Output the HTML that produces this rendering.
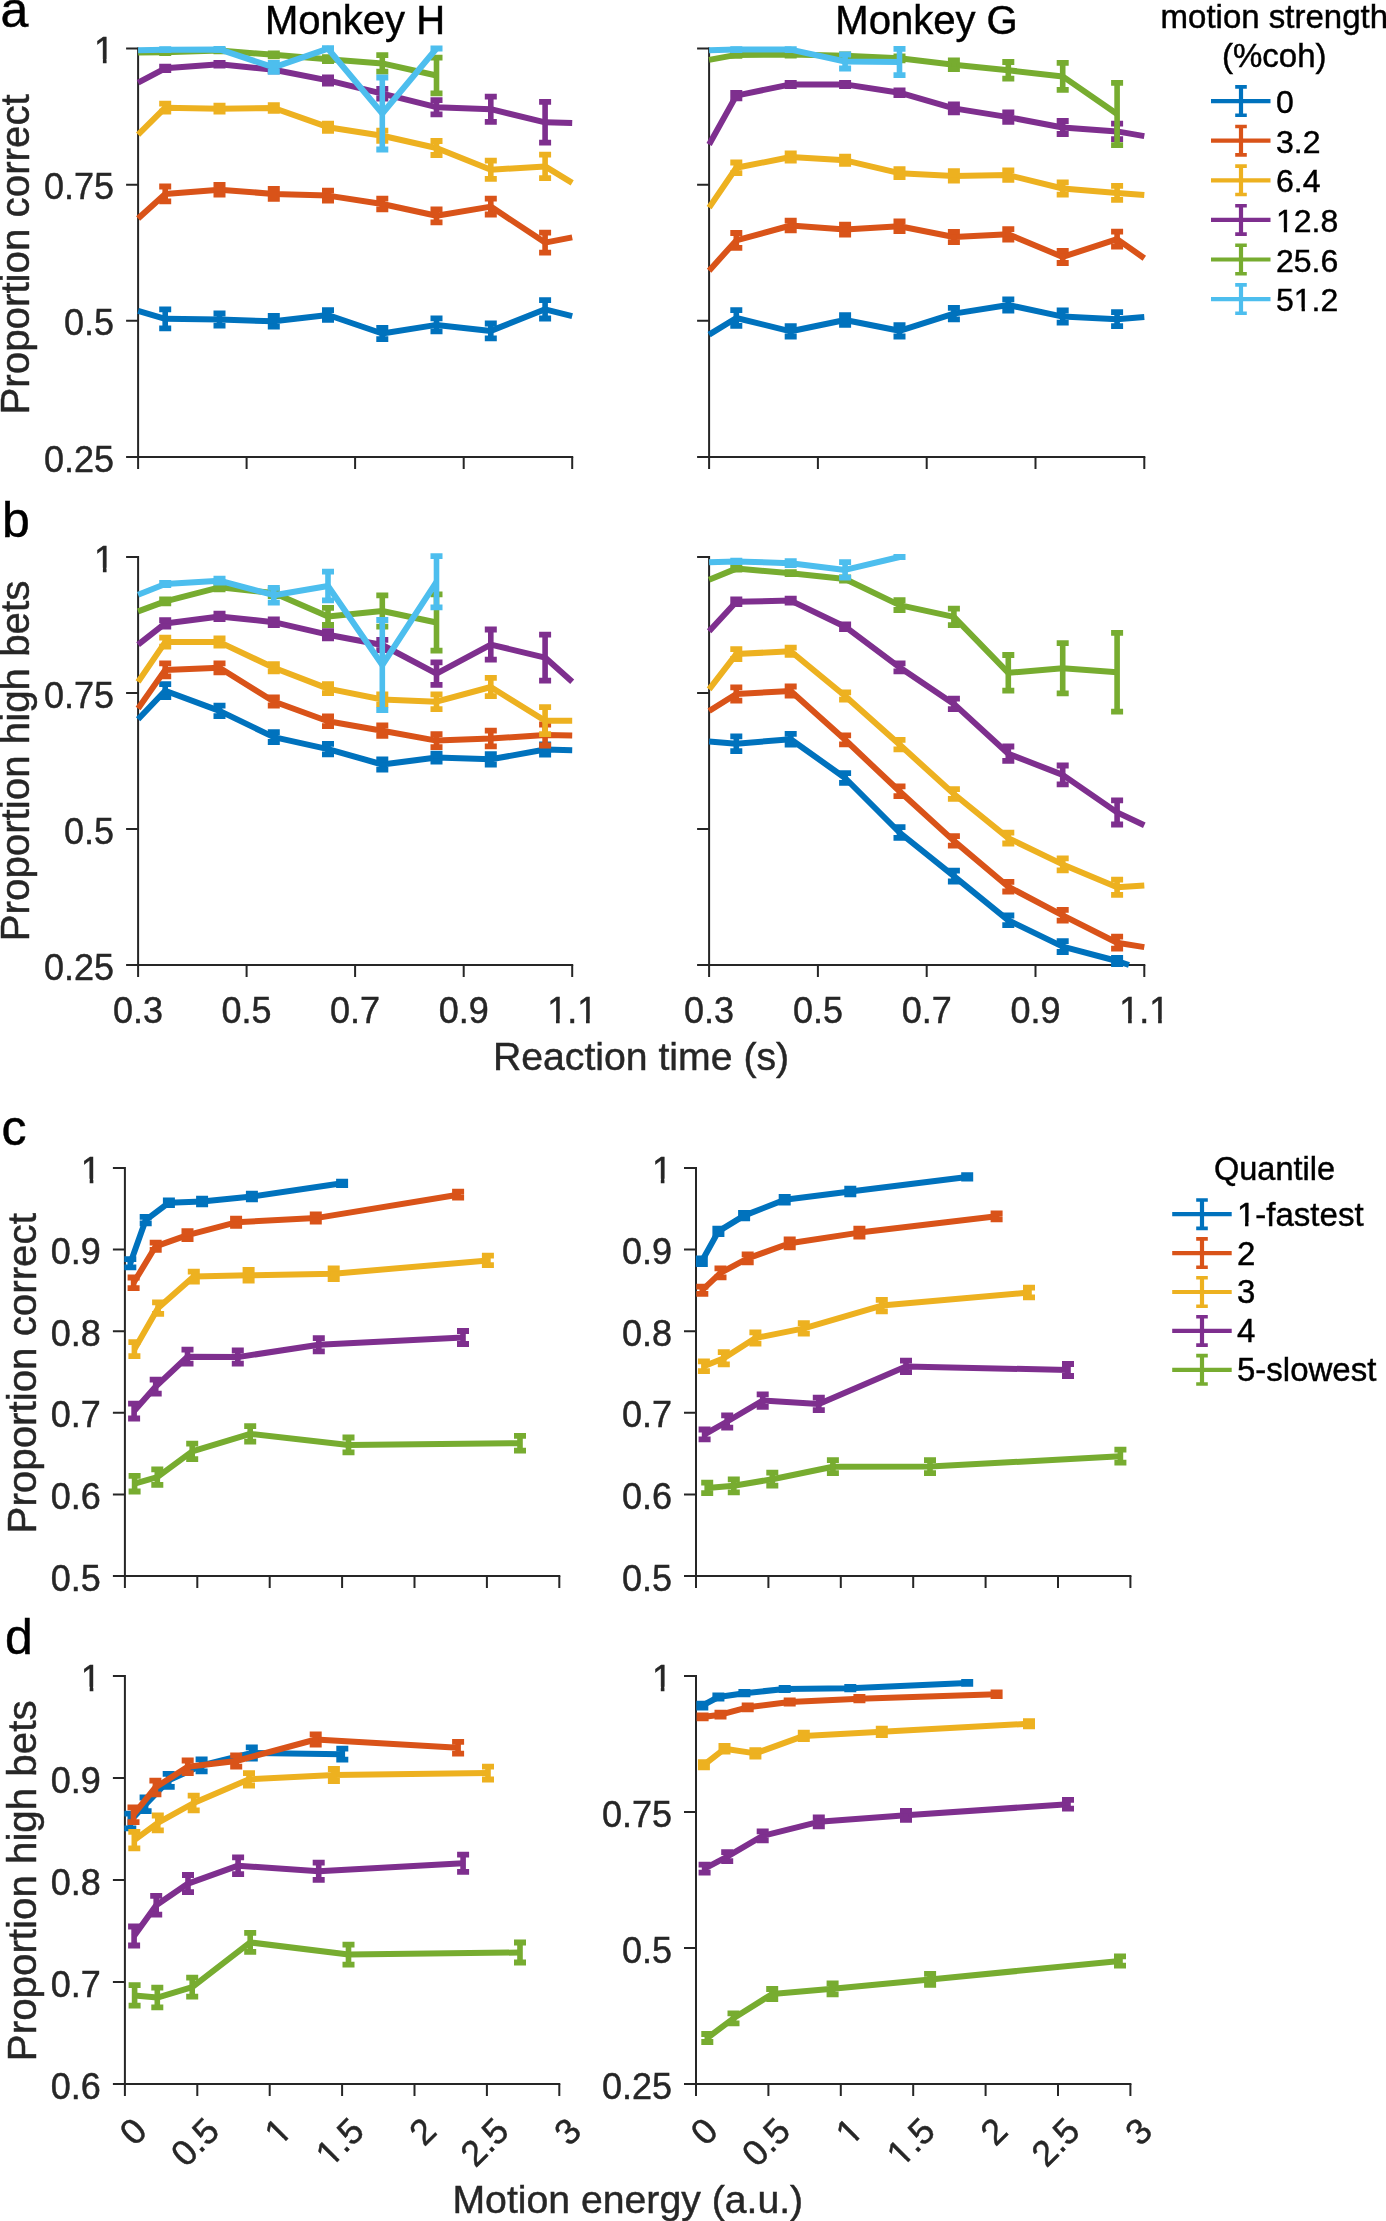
<!DOCTYPE html><html><head><meta charset="utf-8"><title>figure</title><style>html,body{margin:0;padding:0;background:#fff;}svg{display:block;will-change:transform;}</style></head><body><svg width="1386" height="2221" viewBox="0 0 1386 2221">
<style>text{font-family:"Liberation Sans",sans-serif;stroke-width:0.45px;paint-order:stroke}.tk{font-size:36px;fill:#262626;stroke:#262626}.lab{font-size:40.3px;fill:#262626;stroke:#262626}.ttl{font-size:40px;fill:#000;stroke:#000}.xlab{font-size:39.2px;fill:#262626;stroke:#262626}.pl{font-size:50px;fill:#000;stroke:#000}.lg{font-size:32px;fill:#000;stroke:#000}.lgt{font-size:33px;fill:#000;stroke:#000}.lgq{font-size:32.5px;fill:#000;stroke:#000}.lg2{font-size:33px;fill:#000;stroke:#000}</style>
<rect width="1386" height="2221" fill="#fff"/>
<text x="0.5" y="26.6" class="pl">a</text>
<text x="2" y="536.5" class="pl">b</text>
<text x="1.5" y="1144.5" class="pl">c</text>
<text x="5" y="1653.5" class="pl">d</text>
<text x="355" y="34.2" text-anchor="middle" class="ttl">Monkey H</text>
<text x="926.5" y="34.2" text-anchor="middle" class="ttl">Monkey G</text>
<g stroke="#262626" stroke-width="2" fill="none">
<path d="M138.1,47.5V457H573.2"/>
<path d="M126.1,48.5H138.1M126.1,184.7H138.1M126.1,320.8H138.1M126.1,457H138.1M138.1,457V469M246.6,457V469M355.1,457V469M463.7,457V469M572.2,457V469"/>
</g>
<g stroke="#262626" stroke-width="2" fill="none">
<path d="M709.1,47.5V457H1145.3"/>
<path d="M697.1,48.5H709.1M697.1,184.7H709.1M697.1,320.8H709.1M697.1,457H709.1M709.1,457V469M817.9,457V469M926.7,457V469M1035.5,457V469M1144.3,457V469"/>
</g>
<g stroke="#262626" stroke-width="2" fill="none">
<path d="M138.1,556V965H573.2"/>
<path d="M126.1,557H138.1M126.1,693H138.1M126.1,829H138.1M126.1,965H138.1M138.1,965V977M246.6,965V977M355.1,965V977M463.7,965V977M572.2,965V977"/>
</g>
<g stroke="#262626" stroke-width="2" fill="none">
<path d="M709.1,556V965H1145.3"/>
<path d="M697.1,557H709.1M697.1,693H709.1M697.1,829H709.1M697.1,965H709.1M709.1,965V977M817.9,965V977M926.7,965V977M1035.5,965V977M1144.3,965V977"/>
</g>
<g stroke="#262626" stroke-width="2" fill="none">
<path d="M124.9,1167V1576H560.3"/>
<path d="M112.9,1168H124.9M112.9,1249.6H124.9M112.9,1331.2H124.9M112.9,1412.8H124.9M112.9,1494.4H124.9M112.9,1576H124.9M124.9,1576V1588M197.3,1576V1588M269.7,1576V1588M342.1,1576V1588M414.5,1576V1588M486.9,1576V1588M559.3,1576V1588"/>
</g>
<g stroke="#262626" stroke-width="2" fill="none">
<path d="M696,1167V1576H1131.4"/>
<path d="M684,1168H696M684,1249.6H696M684,1331.2H696M684,1412.8H696M684,1494.4H696M684,1576H696M696,1576V1588M768.4,1576V1588M840.8,1576V1588M913.2,1576V1588M985.6,1576V1588M1058,1576V1588M1130.4,1576V1588"/>
</g>
<g stroke="#262626" stroke-width="2" fill="none">
<path d="M124.9,1675V2084H560.3"/>
<path d="M112.9,1676H124.9M112.9,1778H124.9M112.9,1880H124.9M112.9,1982H124.9M112.9,2084H124.9M124.9,2084V2096M197.3,2084V2096M269.7,2084V2096M342.1,2084V2096M414.5,2084V2096M486.9,2084V2096M559.3,2084V2096"/>
</g>
<g stroke="#262626" stroke-width="2" fill="none">
<path d="M696,1675V2084H1131.4"/>
<path d="M684,1676H696M684,1812H696M684,1948H696M684,2084H696M696,2084V2096M768.4,2084V2096M840.8,2084V2096M913.2,2084V2096M985.6,2084V2096M1058,2084V2096M1130.4,2084V2096"/>
</g>
<text x="114.1" y="63" text-anchor="end" class="tk">1</text>
<g fill="#fff"><rect x="95.42" y="59.21" width="7.47" height="5.49"/><rect x="106.55" y="59.21" width="7.19" height="5.49"/></g>
<text x="114.1" y="199.2" text-anchor="end" class="tk">0.75</text>
<text x="114.1" y="335.3" text-anchor="end" class="tk">0.5</text>
<text x="114.1" y="471.5" text-anchor="end" class="tk">0.25</text>
<text x="114.1" y="571.5" text-anchor="end" class="tk">1</text>
<g fill="#fff"><rect x="95.42" y="567.71" width="7.47" height="5.49"/><rect x="106.55" y="567.71" width="7.19" height="5.49"/></g>
<text x="114.1" y="707.5" text-anchor="end" class="tk">0.75</text>
<text x="114.1" y="843.5" text-anchor="end" class="tk">0.5</text>
<text x="114.1" y="979.5" text-anchor="end" class="tk">0.25</text>
<text x="100.9" y="1182.5" text-anchor="end" class="tk">1</text>
<g fill="#fff"><rect x="82.22" y="1178.71" width="7.47" height="5.49"/><rect x="93.35" y="1178.71" width="7.19" height="5.49"/></g>
<text x="100.9" y="1264.1" text-anchor="end" class="tk">0.9</text>
<text x="100.9" y="1345.7" text-anchor="end" class="tk">0.8</text>
<text x="100.9" y="1427.3" text-anchor="end" class="tk">0.7</text>
<text x="100.9" y="1508.9" text-anchor="end" class="tk">0.6</text>
<text x="100.9" y="1590.5" text-anchor="end" class="tk">0.5</text>
<text x="672" y="1182.5" text-anchor="end" class="tk">1</text>
<g fill="#fff"><rect x="653.32" y="1178.71" width="7.47" height="5.49"/><rect x="664.45" y="1178.71" width="7.19" height="5.49"/></g>
<text x="672" y="1264.1" text-anchor="end" class="tk">0.9</text>
<text x="672" y="1345.7" text-anchor="end" class="tk">0.8</text>
<text x="672" y="1427.3" text-anchor="end" class="tk">0.7</text>
<text x="672" y="1508.9" text-anchor="end" class="tk">0.6</text>
<text x="672" y="1590.5" text-anchor="end" class="tk">0.5</text>
<text x="100.9" y="1690.5" text-anchor="end" class="tk">1</text>
<g fill="#fff"><rect x="82.22" y="1686.71" width="7.47" height="5.49"/><rect x="93.35" y="1686.71" width="7.19" height="5.49"/></g>
<text x="100.9" y="1792.5" text-anchor="end" class="tk">0.9</text>
<text x="100.9" y="1894.5" text-anchor="end" class="tk">0.8</text>
<text x="100.9" y="1996.5" text-anchor="end" class="tk">0.7</text>
<text x="100.9" y="2098.5" text-anchor="end" class="tk">0.6</text>
<text x="672" y="1690.5" text-anchor="end" class="tk">1</text>
<g fill="#fff"><rect x="653.32" y="1686.71" width="7.47" height="5.49"/><rect x="664.45" y="1686.71" width="7.19" height="5.49"/></g>
<text x="672" y="1826.5" text-anchor="end" class="tk">0.75</text>
<text x="672" y="1962.5" text-anchor="end" class="tk">0.5</text>
<text x="672" y="2098.5" text-anchor="end" class="tk">0.25</text>
<text x="138.1" y="1023" text-anchor="middle" class="tk">0.3</text>
<text x="246.6" y="1023" text-anchor="middle" class="tk">0.5</text>
<text x="355.1" y="1023" text-anchor="middle" class="tk">0.7</text>
<text x="463.7" y="1023" text-anchor="middle" class="tk">0.9</text>
<text x="572.2" y="1023" text-anchor="middle" class="tk">1.1</text>
<g fill="#fff"><rect x="548.52" y="1019.21" width="7.47" height="5.49"/><rect x="559.65" y="1019.21" width="7.19" height="5.49"/><rect x="578.54" y="1019.21" width="7.47" height="5.49"/><rect x="589.68" y="1019.21" width="7.19" height="5.49"/></g>
<text x="709.1" y="1023" text-anchor="middle" class="tk">0.3</text>
<text x="817.9" y="1023" text-anchor="middle" class="tk">0.5</text>
<text x="926.7" y="1023" text-anchor="middle" class="tk">0.7</text>
<text x="1035.5" y="1023" text-anchor="middle" class="tk">0.9</text>
<text x="1144.3" y="1023" text-anchor="middle" class="tk">1.1</text>
<g fill="#fff"><rect x="1120.62" y="1019.21" width="7.47" height="5.49"/><rect x="1131.75" y="1019.21" width="7.19" height="5.49"/><rect x="1150.64" y="1019.21" width="7.47" height="5.49"/><rect x="1161.78" y="1019.21" width="7.19" height="5.49"/></g>
<text transform="translate(148.9,2133) rotate(-45)" text-anchor="end" class="tk">0</text>
<text transform="translate(221.3,2133) rotate(-45)" text-anchor="end" class="tk">0.5</text>
<text transform="translate(293.7,2133) rotate(-45)" text-anchor="end" class="tk">1</text>
<g fill="#fff" transform="translate(293.7,2133) rotate(-45)"><rect x="-18.68" y="-3.79" width="7.47" height="5.49"/><rect x="-7.55" y="-3.79" width="7.19" height="5.49"/></g>
<text transform="translate(366.1,2133) rotate(-45)" text-anchor="end" class="tk">1.5</text>
<g fill="#fff" transform="translate(366.1,2133) rotate(-45)"><rect x="-48.70" y="-3.79" width="7.47" height="5.49"/><rect x="-37.57" y="-3.79" width="7.19" height="5.49"/></g>
<text transform="translate(438.5,2133) rotate(-45)" text-anchor="end" class="tk">2</text>
<text transform="translate(510.9,2133) rotate(-45)" text-anchor="end" class="tk">2.5</text>
<text transform="translate(583.3,2133) rotate(-45)" text-anchor="end" class="tk">3</text>
<text transform="translate(720,2133) rotate(-45)" text-anchor="end" class="tk">0</text>
<text transform="translate(792.4,2133) rotate(-45)" text-anchor="end" class="tk">0.5</text>
<text transform="translate(864.8,2133) rotate(-45)" text-anchor="end" class="tk">1</text>
<g fill="#fff" transform="translate(864.8,2133) rotate(-45)"><rect x="-18.68" y="-3.79" width="7.47" height="5.49"/><rect x="-7.55" y="-3.79" width="7.19" height="5.49"/></g>
<text transform="translate(937.2,2133) rotate(-45)" text-anchor="end" class="tk">1.5</text>
<g fill="#fff" transform="translate(937.2,2133) rotate(-45)"><rect x="-48.70" y="-3.79" width="7.47" height="5.49"/><rect x="-37.57" y="-3.79" width="7.19" height="5.49"/></g>
<text transform="translate(1009.6,2133) rotate(-45)" text-anchor="end" class="tk">2</text>
<text transform="translate(1082,2133) rotate(-45)" text-anchor="end" class="tk">2.5</text>
<text transform="translate(1154.4,2133) rotate(-45)" text-anchor="end" class="tk">3</text>
<text transform="translate(29.1,254.4) rotate(-90)" text-anchor="middle" class="lab">Proportion correct</text>
<text transform="translate(29,761) rotate(-90)" text-anchor="middle" class="lab">Proportion high bets</text>
<text transform="translate(36,1373.3) rotate(-90)" text-anchor="middle" class="lab">Proportion correct</text>
<text transform="translate(36,1880.8) rotate(-90)" text-anchor="middle" class="lab">Proportion high bets</text>
<text x="641" y="1069.6" text-anchor="middle" class="xlab">Reaction time (s)</text>
<text x="627.8" y="2212.6" text-anchor="middle" class="xlab">Motion energy (a.u.)</text>
<g stroke="#0072BD" fill="none"><path d="M138.1,310.8 L165.2,318.8 L219.5,319.6 L273.8,321.3 L328,315 L382.3,333.5 L436.5,324.9 L490.8,330.9 L545.1,309.3 L572.2,316.2" stroke-width="6" stroke-linejoin="round"/><path d="M165.2,309.3V328.3M219.5,313.5V325.7M273.8,316V326.6M328,310.1V319.9M382.3,327.8V339.2M436.5,318.4V331.4M490.8,323.5V338.3M545.1,300.1V318.5" stroke-width="5.6"/><path d="M159.2,309.3H171.2M159.2,328.3H171.2M213.5,313.5H225.5M213.5,325.7H225.5M267.8,316H279.8M267.8,326.6H279.8M322,310.1H334M322,319.9H334M376.3,327.8H388.3M376.3,339.2H388.3M430.5,318.4H442.5M430.5,331.4H442.5M484.8,323.5H496.8M484.8,338.3H496.8M539.1,300.1H551.1M539.1,318.5H551.1" stroke-width="5.8"/></g>
<g stroke="#D95319" fill="none"><path d="M138.1,218.4 L165.2,193.9 L219.5,189.7 L273.8,193.9 L328,195.6 L382.3,204 L436.5,215.8 L490.8,206.6 L545.1,242.6 L572.2,237.4" stroke-width="6" stroke-linejoin="round"/><path d="M165.2,186.5V201.3M219.5,184.8V194.6M273.8,189V198.8M328,190.7V200.5M382.3,198.7V209.3M436.5,209.3V222.3M490.8,198.7V214.5M545.1,232.6V252.6" stroke-width="5.6"/><path d="M159.2,186.5H171.2M159.2,201.3H171.2M213.5,184.8H225.5M213.5,194.6H225.5M267.8,189H279.8M267.8,198.8H279.8M322,190.7H334M322,200.5H334M376.3,198.7H388.3M376.3,209.3H388.3M430.5,209.3H442.5M430.5,222.3H442.5M484.8,198.7H496.8M484.8,214.5H496.8M539.1,232.6H551.1M539.1,252.6H551.1" stroke-width="5.8"/></g>
<g stroke="#EDB120" fill="none"><path d="M138.1,134.6 L165.2,107.7 L219.5,108.7 L273.8,108 L328,127.2 L382.3,135.8 L436.5,148 L490.8,169.8 L545.1,166.4 L572.2,182.9" stroke-width="6" stroke-linejoin="round"/><path d="M165.2,103.7V111.7M219.5,105.7V111.7M273.8,105.2V110.8M328,123.6V130.8M382.3,130.7V140.9M436.5,141V155M490.8,160.7V178.9M545.1,154.7V178.1" stroke-width="5.6"/><path d="M159.2,103.7H171.2M159.2,111.7H171.2M213.5,105.7H225.5M213.5,111.7H225.5M267.8,105.2H279.8M267.8,110.8H279.8M322,123.6H334M322,130.8H334M376.3,130.7H388.3M376.3,140.9H388.3M430.5,141H442.5M430.5,155H442.5M484.8,160.7H496.8M484.8,178.9H496.8M539.1,154.7H551.1M539.1,178.1H551.1" stroke-width="5.8"/></g>
<g stroke="#7E2F8E" fill="none"><path d="M138.1,82.7 L165.2,68.3 L219.5,64.3 L273.8,69.8 L328,80.4 L382.3,93.7 L436.5,107.2 L490.8,109.2 L545.1,122.3 L572.2,123.1" stroke-width="6" stroke-linejoin="round"/><path d="M165.2,66.6V70M219.5,63V65.6M273.8,68.3V71.3M328,77.3V83.5M382.3,88.9V98.5M436.5,100.1V114.3M490.8,96.6V121.8M545.1,101.9V142.7" stroke-width="5.6"/><path d="M159.2,66.6H171.2M159.2,70H171.2M213.5,63H225.5M213.5,65.6H225.5M267.8,68.3H279.8M267.8,71.3H279.8M322,77.3H334M322,83.5H334M376.3,88.9H388.3M376.3,98.5H388.3M430.5,100.1H442.5M430.5,114.3H442.5M484.8,96.6H496.8M484.8,121.8H496.8M539.1,101.9H551.1M539.1,142.7H551.1" stroke-width="5.8"/></g>
<g stroke="#77AC30" fill="none"><path d="M138.1,52.5 L165.2,52.3 L219.5,50.6 L273.8,54.8 L328,59.2 L382.3,63.4 L436.5,75.5" stroke-width="6" stroke-linejoin="round"/><path d="M165.2,51.5V53.1M219.5,49.8V51.4M273.8,53.3V56.3M328,57.2V61.2M382.3,55.2V71.6M436.5,57.7V93.3" stroke-width="5.6"/><path d="M159.2,51.5H171.2M159.2,53.1H171.2M213.5,49.8H225.5M213.5,51.4H225.5M267.8,53.3H279.8M267.8,56.3H279.8M322,57.2H334M322,61.2H334M376.3,55.2H388.3M376.3,71.6H388.3M430.5,57.7H442.5M430.5,93.3H442.5" stroke-width="5.8"/></g>
<g stroke="#4DBEEE" fill="none"><path d="M138.1,50.3 L165.2,49.7 L219.5,49.4 L273.8,67.4 L328,48.7 L382.3,113.5 L436.5,48.5" stroke-width="6" stroke-linejoin="round"/><path d="M165.2,49.2V50.2M219.5,48.9V49.9M273.8,62.9V71.9M328,48.2V49.2M382.3,77.5V149.5" stroke-width="5.6"/><path d="M159.2,49.2H171.2M159.2,50.2H171.2M213.5,48.9H225.5M213.5,49.9H225.5M267.8,62.9H279.8M267.8,71.9H279.8M322,48.2H334M322,49.2H334M376.3,77.5H388.3M376.3,149.5H388.3M430.5,48.5H442.5M430.5,48.5H442.5" stroke-width="5.8"/></g>
<g stroke="#0072BD" fill="none"><path d="M709.1,334.6 L736.3,318 L790.7,331.3 L845.1,320 L899.5,330.8 L953.9,313.6 L1008.3,305 L1062.7,316.6 L1117.1,319.2 L1144.3,317.1" stroke-width="6" stroke-linejoin="round"/><path d="M736.3,310.2V325.8M790.7,326.1V336.5M845.1,315.1V324.9M899.5,325.1V336.5M953.9,307.9V319.3M1008.3,299.3V310.7M1062.7,310.5V322.7M1117.1,312.2V326.2" stroke-width="5.6"/><path d="M730.3,310.2H742.3M730.3,325.8H742.3M784.7,326.1H796.7M784.7,336.5H796.7M839.1,315.1H851.1M839.1,324.9H851.1M893.5,325.1H905.5M893.5,336.5H905.5M947.9,307.9H959.9M947.9,319.3H959.9M1002.3,299.3H1014.3M1002.3,310.7H1014.3M1056.7,310.5H1068.7M1056.7,322.7H1068.7M1111.1,312.2H1123.1M1111.1,326.2H1123.1" stroke-width="5.8"/></g>
<g stroke="#D95319" fill="none"><path d="M709.1,270.7 L736.3,240.4 L790.7,225.5 L845.1,229.6 L899.5,226.3 L953.9,237 L1008.3,234.3 L1062.7,256.9 L1117.1,239.1 L1144.3,258.2" stroke-width="6" stroke-linejoin="round"/><path d="M736.3,233V247.8M790.7,220.6V230.4M845.1,224.7V234.5M899.5,221.4V231.2M953.9,231.8V242.2M1008.3,229.1V239.5M1062.7,250.8V263M1117.1,231.7V246.5" stroke-width="5.6"/><path d="M730.3,233H742.3M730.3,247.8H742.3M784.7,220.6H796.7M784.7,230.4H796.7M839.1,224.7H851.1M839.1,234.5H851.1M893.5,221.4H905.5M893.5,231.2H905.5M947.9,231.8H959.9M947.9,242.2H959.9M1002.3,229.1H1014.3M1002.3,239.5H1014.3M1056.7,250.8H1068.7M1056.7,263H1068.7M1111.1,231.7H1123.1M1111.1,246.5H1123.1" stroke-width="5.8"/></g>
<g stroke="#EDB120" fill="none"><path d="M709.1,207.6 L736.3,167.8 L790.7,157 L845.1,160.3 L899.5,173.2 L953.9,175.9 L1008.3,175.1 L1062.7,188.5 L1117.1,192.9 L1144.3,195" stroke-width="6" stroke-linejoin="round"/><path d="M736.3,162.5V173.1M790.7,153.4V160.6M845.1,156.7V163.9M899.5,169.2V177.2M953.9,171.1V180.7M1008.3,170.3V179.9M1062.7,182.4V194.6M1117.1,185.9V199.9" stroke-width="5.6"/><path d="M730.3,162.5H742.3M730.3,173.1H742.3M784.7,153.4H796.7M784.7,160.6H796.7M839.1,156.7H851.1M839.1,163.9H851.1M893.5,169.2H905.5M893.5,177.2H905.5M947.9,171.1H959.9M947.9,180.7H959.9M1002.3,170.3H1014.3M1002.3,179.9H1014.3M1056.7,182.4H1068.7M1056.7,194.6H1068.7M1111.1,185.9H1123.1M1111.1,199.9H1123.1" stroke-width="5.8"/></g>
<g stroke="#7E2F8E" fill="none"><path d="M709.1,144.5 L736.3,95.6 L790.7,84.4 L845.1,84.4 L899.5,92.7 L953.9,108.4 L1008.3,117.1 L1062.7,127.5 L1117.1,131.4 L1144.3,136.1" stroke-width="6" stroke-linejoin="round"/><path d="M736.3,92.8V98.4M790.7,82.8V86M845.1,82.8V86M899.5,90.3V95.1M953.9,104.5V112.3M1008.3,112.3V121.9M1062.7,121V134M1117.1,123.6V139.2" stroke-width="5.6"/><path d="M730.3,92.8H742.3M730.3,98.4H742.3M784.7,82.8H796.7M784.7,86H796.7M839.1,82.8H851.1M839.1,86H851.1M893.5,90.3H905.5M893.5,95.1H905.5M947.9,104.5H959.9M947.9,112.3H959.9M1002.3,112.3H1014.3M1002.3,121.9H1014.3M1056.7,121H1068.7M1056.7,134H1068.7M1111.1,123.6H1123.1M1111.1,139.2H1123.1" stroke-width="5.8"/></g>
<g stroke="#77AC30" fill="none"><path d="M709.1,59.9 L736.3,54.9 L790.7,54.6 L845.1,55.8 L899.5,58.3 L953.9,64.7 L1008.3,70.3 L1062.7,76.4 L1117.1,114" stroke-width="6" stroke-linejoin="round"/><path d="M736.3,53.9V55.9M790.7,53.6V55.6M845.1,54.3V57.3M899.5,56.3V60.3M953.9,60.3V69.1M1008.3,62V78.6M1062.7,62.9V89.9M1117.1,82.8V145.2" stroke-width="5.6"/><path d="M730.3,53.9H742.3M730.3,55.9H742.3M784.7,53.6H796.7M784.7,55.6H796.7M839.1,54.3H851.1M839.1,57.3H851.1M893.5,56.3H905.5M893.5,60.3H905.5M947.9,60.3H959.9M947.9,69.1H959.9M1002.3,62H1014.3M1002.3,78.6H1014.3M1056.7,62.9H1068.7M1056.7,89.9H1068.7M1111.1,82.8H1123.1M1111.1,145.2H1123.1" stroke-width="5.8"/></g>
<g stroke="#4DBEEE" fill="none"><path d="M709.1,50.2 L736.3,49.6 L790.7,49.6 L845.1,61.5 L899.5,62" stroke-width="6" stroke-linejoin="round"/><path d="M736.3,49.1V50.1M790.7,49.1V50.1M845.1,54.5V68.5M899.5,48.8V75.2" stroke-width="5.6"/><path d="M730.3,49.1H742.3M730.3,50.1H742.3M784.7,49.1H796.7M784.7,50.1H796.7M839.1,54.5H851.1M839.1,68.5H851.1M893.5,48.8H905.5M893.5,75.2H905.5" stroke-width="5.8"/></g>
<g stroke="#0072BD" fill="none"><path d="M138.1,719.2 L165.2,690.7 L219.5,710.9 L273.8,737.1 L328,749.1 L382.3,764.5 L436.5,757.6 L490.8,759.3 L545.1,749.5 L572.2,750.2" stroke-width="6" stroke-linejoin="round"/><path d="M165.2,684.2V697.2M219.5,705.6V716.2M273.8,732.2V742M328,743.8V754.4M382.3,759.3V769.7M436.5,753.6V761.6M490.8,754.1V764.5M545.1,744.5V754.5" stroke-width="5.6"/><path d="M159.2,684.2H171.2M159.2,697.2H171.2M213.5,705.6H225.5M213.5,716.2H225.5M267.8,732.2H279.8M267.8,742H279.8M322,743.8H334M322,754.4H334M376.3,759.3H388.3M376.3,769.7H388.3M430.5,753.6H442.5M430.5,761.6H442.5M484.8,754.1H496.8M484.8,764.5H496.8M539.1,744.5H551.1M539.1,754.5H551.1" stroke-width="5.8"/></g>
<g stroke="#D95319" fill="none"><path d="M138.1,708.5 L165.2,669.9 L219.5,667.8 L273.8,701.5 L328,721.3 L382.3,730.7 L436.5,740.6 L490.8,738.5 L545.1,735 L572.2,735.5" stroke-width="6" stroke-linejoin="round"/><path d="M165.2,663.4V676.4M219.5,663.3V672.3M273.8,697.5V705.5M328,716.4V726.2M382.3,725.5V735.9M436.5,734.1V747.1M490.8,730.7V746.3M545.1,724.5V745.5" stroke-width="5.6"/><path d="M159.2,663.4H171.2M159.2,676.4H171.2M213.5,663.3H225.5M213.5,672.3H225.5M267.8,697.5H279.8M267.8,705.5H279.8M322,716.4H334M322,726.2H334M376.3,725.5H388.3M376.3,735.9H388.3M430.5,734.1H442.5M430.5,747.1H442.5M484.8,730.7H496.8M484.8,746.3H496.8M539.1,724.5H551.1M539.1,745.5H551.1" stroke-width="5.8"/></g>
<g stroke="#EDB120" fill="none"><path d="M138.1,681.9 L165.2,642.1 L219.5,642.1 L273.8,667.8 L328,688.6 L382.3,699.5 L436.5,701.7 L490.8,687 L545.1,720.7 L572.2,720.8" stroke-width="6" stroke-linejoin="round"/><path d="M165.2,637.6V646.6M219.5,638.5V645.7M273.8,664.2V671.4M328,684.1V693.1M382.3,694.3V704.7M436.5,694.3V709.1M490.8,677.9V696.1M545.1,707.2V734.2" stroke-width="5.6"/><path d="M159.2,637.6H171.2M159.2,646.6H171.2M213.5,638.5H225.5M213.5,645.7H225.5M267.8,664.2H279.8M267.8,671.4H279.8M322,684.1H334M322,693.1H334M376.3,694.3H388.3M376.3,704.7H388.3M430.5,694.3H442.5M430.5,709.1H442.5M484.8,677.9H496.8M484.8,696.1H496.8M539.1,707.2H551.1M539.1,734.2H551.1" stroke-width="5.8"/></g>
<g stroke="#7E2F8E" fill="none"><path d="M138.1,644.6 L165.2,623.4 L219.5,616.4 L273.8,622.2 L328,634.7 L382.3,645 L436.5,673.6 L490.8,644.6 L545.1,657.6 L572.2,681.8" stroke-width="6" stroke-linejoin="round"/><path d="M165.2,620.2V626.6M219.5,613.6V619.2M273.8,619.4V625M328,631.1V638.3M382.3,639.8V650.2M436.5,662.3V684.9M490.8,629.5V659.7M545.1,634.6V680.6" stroke-width="5.6"/><path d="M159.2,620.2H171.2M159.2,626.6H171.2M213.5,613.6H225.5M213.5,619.2H225.5M267.8,619.4H279.8M267.8,625H279.8M322,631.1H334M322,638.3H334M376.3,639.8H388.3M376.3,650.2H388.3M430.5,662.3H442.5M430.5,684.9H442.5M484.8,629.5H496.8M484.8,659.7H496.8M539.1,634.6H551.1M539.1,680.6H551.1" stroke-width="5.8"/></g>
<g stroke="#77AC30" fill="none"><path d="M138.1,611.4 L165.2,601.4 L219.5,587.3 L273.8,593.1 L328,616.4 L382.3,611 L436.5,622.5" stroke-width="6" stroke-linejoin="round"/><path d="M165.2,599.4V603.4M219.5,585.3V589.3M273.8,590.1V596.1M328,607.8V625M382.3,595.4V626.6M436.5,594.3V650.7" stroke-width="5.6"/><path d="M159.2,599.4H171.2M159.2,603.4H171.2M213.5,585.3H225.5M213.5,589.3H225.5M267.8,590.1H279.8M267.8,596.1H279.8M322,607.8H334M322,625H334M376.3,595.4H388.3M376.3,626.6H388.3M430.5,594.3H442.5M430.5,650.7H442.5" stroke-width="5.8"/></g>
<g stroke="#4DBEEE" fill="none"><path d="M138.1,594.8 L165.2,584 L219.5,580.7 L273.8,595.2 L328,586 L382.3,665 L436.5,581.8" stroke-width="6" stroke-linejoin="round"/><path d="M165.2,583V585M219.5,578.7V582.7M273.8,587.8V602.6M328,571.6V600.4M382.3,620V710M436.5,556.2V607.4" stroke-width="5.6"/><path d="M159.2,583H171.2M159.2,585H171.2M213.5,578.7H225.5M213.5,582.7H225.5M267.8,587.8H279.8M267.8,602.6H279.8M322,571.6H334M322,600.4H334M376.3,620H388.3M376.3,710H388.3M430.5,556.2H442.5M430.5,607.4H442.5" stroke-width="5.8"/></g>
<g stroke="#0072BD" fill="none"><path d="M709.1,741.6 L736.3,743.7 L790.7,739.2 L845.1,778 L899.5,832.5 L953.9,876.1 L1008.3,920.3 L1062.7,946.6 L1117.1,961 L1129,965" stroke-width="6" stroke-linejoin="round"/><path d="M736.3,736.3V751.1M790.7,733.9V744.5M845.1,773.1V782.9M899.5,827.1V837.9M953.9,870.7V881.5M1008.3,915.5V925.1M1062.7,941.2V952M1117.1,958V964" stroke-width="5.6"/><path d="M730.3,736.3H742.3M730.3,751.1H742.3M784.7,733.9H796.7M784.7,744.5H796.7M839.1,773.1H851.1M839.1,782.9H851.1M893.5,827.1H905.5M893.5,837.9H905.5M947.9,870.7H959.9M947.9,881.5H959.9M1002.3,915.5H1014.3M1002.3,925.1H1014.3M1056.7,941.2H1068.7M1056.7,952H1068.7M1111.1,958H1123.1M1111.1,964H1123.1" stroke-width="5.8"/></g>
<g stroke="#D95319" fill="none"><path d="M709.1,711 L736.3,694 L790.7,691 L845.1,739.8 L899.5,791.3 L953.9,840.9 L1008.3,886.7 L1062.7,915.3 L1117.1,942.7 L1144.3,947.1" stroke-width="6" stroke-linejoin="round"/><path d="M736.3,687.4V700.6M790.7,686.5V695.5M845.1,735.3V744.3M899.5,786.4V796.2M953.9,836.1V845.7M1008.3,881.9V891.5M1062.7,909.9V920.7M1117.1,936.7V948.7" stroke-width="5.6"/><path d="M730.3,687.4H742.3M730.3,700.6H742.3M784.7,686.5H796.7M784.7,695.5H796.7M839.1,735.3H851.1M839.1,744.3H851.1M893.5,786.4H905.5M893.5,796.2H905.5M947.9,836.1H959.9M947.9,845.7H959.9M1002.3,881.9H1014.3M1002.3,891.5H1014.3M1056.7,909.9H1068.7M1056.7,920.7H1068.7M1111.1,936.7H1123.1M1111.1,948.7H1123.1" stroke-width="5.8"/></g>
<g stroke="#EDB120" fill="none"><path d="M709.1,689.4 L736.3,654.1 L790.7,651.2 L845.1,696 L899.5,744.6 L953.9,794 L1008.3,838.1 L1062.7,864.4 L1117.1,887.3 L1144.3,885.6" stroke-width="6" stroke-linejoin="round"/><path d="M736.3,649.2V659M790.7,647.6V654.8M845.1,692.4V699.6M899.5,739.8V749.4M953.9,789.2V798.8M1008.3,832.7V843.5M1062.7,858.4V870.4M1117.1,879.7V894.9" stroke-width="5.6"/><path d="M730.3,649.2H742.3M730.3,659H742.3M784.7,647.6H796.7M784.7,654.8H796.7M839.1,692.4H851.1M839.1,699.6H851.1M893.5,739.8H905.5M893.5,749.4H905.5M947.9,789.2H959.9M947.9,798.8H959.9M1002.3,832.7H1014.3M1002.3,843.5H1014.3M1056.7,858.4H1068.7M1056.7,870.4H1068.7M1111.1,879.7H1123.1M1111.1,894.9H1123.1" stroke-width="5.8"/></g>
<g stroke="#7E2F8E" fill="none"><path d="M709.1,631.3 L736.3,601.8 L790.7,600.6 L845.1,626.7 L899.5,667.3 L953.9,703.9 L1008.3,753.7 L1062.7,774.9 L1117.1,812.4 L1144.3,825.3" stroke-width="6" stroke-linejoin="round"/><path d="M736.3,599.4V604.2M790.7,598.6V602.6M845.1,624.3V629.1M899.5,663.3V671.3M953.9,698.7V709.1M1008.3,746.5V760.9M1062.7,765.5V784.3M1117.1,800.3V824.5" stroke-width="5.6"/><path d="M730.3,599.4H742.3M730.3,604.2H742.3M784.7,598.6H796.7M784.7,602.6H796.7M839.1,624.3H851.1M839.1,629.1H851.1M893.5,663.3H905.5M893.5,671.3H905.5M947.9,698.7H959.9M947.9,709.1H959.9M1002.3,746.5H1014.3M1002.3,760.9H1014.3M1056.7,765.5H1068.7M1056.7,784.3H1068.7M1111.1,800.3H1123.1M1111.1,824.5H1123.1" stroke-width="5.8"/></g>
<g stroke="#77AC30" fill="none"><path d="M709.1,579.7 L736.3,568.6 L790.7,573.2 L845.1,579 L899.5,605.1 L953.9,616.9 L1008.3,672.8 L1062.7,668.2 L1117.1,672.3" stroke-width="6" stroke-linejoin="round"/><path d="M736.3,567.6V569.6M790.7,572.2V574.2M845.1,577.5V580.5M899.5,600.2V610M953.9,608.6V625.2M1008.3,655V690.6M1062.7,643.1V693.3M1117.1,632.9V711.7" stroke-width="5.6"/><path d="M730.3,567.6H742.3M730.3,569.6H742.3M784.7,572.2H796.7M784.7,574.2H796.7M839.1,577.5H851.1M839.1,580.5H851.1M893.5,600.2H905.5M893.5,610H905.5M947.9,608.6H959.9M947.9,625.2H959.9M1002.3,655H1014.3M1002.3,690.6H1014.3M1056.7,643.1H1068.7M1056.7,693.3H1068.7M1111.1,632.9H1123.1M1111.1,711.7H1123.1" stroke-width="5.8"/></g>
<g stroke="#4DBEEE" fill="none"><path d="M709.1,562.3 L736.3,561.4 L790.7,563.2 L845.1,569.9 L899.5,557" stroke-width="6" stroke-linejoin="round"/><path d="M736.3,560.6V562.2M790.7,561.2V565.2M845.1,562.1V577.7" stroke-width="5.6"/><path d="M730.3,560.6H742.3M730.3,562.2H742.3M784.7,561.2H796.7M784.7,565.2H796.7M839.1,562.1H851.1M839.1,577.7H851.1M893.5,557H905.5M893.5,557H905.5" stroke-width="5.8"/></g>
<g stroke="#0072BD" fill="none"><path d="M130.3,1263.3 L145.7,1220.1 L168.9,1202.7 L202.1,1201.5 L251.9,1196.5 L342.1,1183.3" stroke-width="6" stroke-linejoin="round"/><path d="M130.3,1259.2V1267.4M145.7,1216.9V1223.3M168.9,1200.3V1205.1M202.1,1198.7V1204.3M251.9,1193.7V1199.3M342.1,1181.6V1185" stroke-width="5.6"/><path d="M124.3,1259.2H136.3M124.3,1267.4H136.3M139.7,1216.9H151.7M139.7,1223.3H151.7M162.9,1200.3H174.9M162.9,1205.1H174.9M196.1,1198.7H208.1M196.1,1204.3H208.1M245.9,1193.7H257.9M245.9,1199.3H257.9M336.1,1181.6H348.1M336.1,1185H348.1" stroke-width="5.8"/></g>
<g stroke="#D95319" fill="none"><path d="M133.6,1282.8 L155.7,1246.3 L187.5,1235.1 L236.1,1222.3 L315.8,1218.1 L458.1,1194.7" stroke-width="6" stroke-linejoin="round"/><path d="M133.6,1277.5V1288.1M155.7,1242.7V1249.9M187.5,1231.1V1239.1M236.1,1218.7V1225.9M315.8,1214.5V1221.7M458.1,1191.7V1197.7" stroke-width="5.6"/><path d="M127.6,1277.5H139.6M127.6,1288.1H139.6M149.7,1242.7H161.7M149.7,1249.9H161.7M181.5,1231.1H193.5M181.5,1239.1H193.5M230.1,1218.7H242.1M230.1,1225.9H242.1M309.8,1214.5H321.8M309.8,1221.7H321.8M452.1,1191.7H464.1M452.1,1197.7H464.1" stroke-width="5.8"/></g>
<g stroke="#EDB120" fill="none"><path d="M134.4,1349.2 L158.1,1308.1 L193.8,1276.6 L248.6,1275.3 L333.7,1273.7 L487.9,1260.4" stroke-width="6" stroke-linejoin="round"/><path d="M134.4,1342.2V1356.2M158.1,1302.4V1313.8M193.8,1271.7V1281.5M248.6,1270V1280.6M333.7,1268.4V1279M487.9,1255.6V1265.2" stroke-width="5.6"/><path d="M128.4,1342.2H140.4M128.4,1356.2H140.4M152.1,1302.4H164.1M152.1,1313.8H164.1M187.8,1271.7H199.8M187.8,1281.5H199.8M242.6,1270H254.6M242.6,1280.6H254.6M327.7,1268.4H339.7M327.7,1279H339.7M481.9,1255.6H493.9M481.9,1265.2H493.9" stroke-width="5.8"/></g>
<g stroke="#7E2F8E" fill="none"><path d="M134.1,1411.1 L155.7,1386.6 L187.5,1356.7 L237.8,1357.1 L318.8,1344.7 L463,1337.5" stroke-width="6" stroke-linejoin="round"/><path d="M134.1,1403.7V1418.5M155.7,1379.6V1393.6M187.5,1349.7V1363.7M237.8,1350.5V1363.7M318.8,1338.1V1351.3M463,1331V1344" stroke-width="5.6"/><path d="M128.1,1403.7H140.1M128.1,1418.5H140.1M149.7,1379.6H161.7M149.7,1393.6H161.7M181.5,1349.7H193.5M181.5,1363.7H193.5M231.8,1350.5H243.8M231.8,1363.7H243.8M312.8,1338.1H324.8M312.8,1351.3H324.8M457,1331H469M457,1344H469" stroke-width="5.8"/></g>
<g stroke="#77AC30" fill="none"><path d="M134.6,1483.7 L157.3,1477.1 L192.2,1451.4 L250.2,1433.9 L348.5,1444.9 L520,1443.2" stroke-width="6" stroke-linejoin="round"/><path d="M134.6,1475.9V1491.5M157.3,1469.3V1484.9M192.2,1443.6V1459.2M250.2,1426.1V1441.7M348.5,1437.5V1452.3M520,1435.8V1450.6" stroke-width="5.6"/><path d="M128.6,1475.9H140.6M128.6,1491.5H140.6M151.3,1469.3H163.3M151.3,1484.9H163.3M186.2,1443.6H198.2M186.2,1459.2H198.2M244.2,1426.1H256.2M244.2,1441.7H256.2M342.5,1437.5H354.5M342.5,1452.3H354.5M514,1435.8H526M514,1450.6H526" stroke-width="5.8"/></g>
<g stroke="#0072BD" fill="none"><path d="M701.8,1261.2 L718.4,1231.4 L744.1,1215.6 L784.7,1199.8 L850.3,1191.5 L967.2,1176.9" stroke-width="6" stroke-linejoin="round"/><path d="M701.8,1258.4V1264M718.4,1228.6V1234.2M744.1,1212.8V1218.4M784.7,1197V1202.6M850.3,1188.7V1194.3M967.2,1175.1V1178.7" stroke-width="5.6"/><path d="M695.8,1258.4H707.8M695.8,1264H707.8M712.4,1228.6H724.4M712.4,1234.2H724.4M738.1,1212.8H750.1M738.1,1218.4H750.1M778.7,1197H790.7M778.7,1202.6H790.7M844.3,1188.7H856.3M844.3,1194.3H856.3M961.2,1175.1H973.2M961.2,1178.7H973.2" stroke-width="5.8"/></g>
<g stroke="#D95319" fill="none"><path d="M702.3,1290.2 L720.5,1272.9 L747.7,1258.4 L789.7,1243.3 L859.4,1232.6 L996.6,1216.3" stroke-width="6" stroke-linejoin="round"/><path d="M702.3,1286.6V1293.8M720.5,1268.4V1277.4M747.7,1254.4V1262.4M789.7,1239.3V1247.3M859.4,1228.6V1236.6M996.6,1213.3V1219.3" stroke-width="5.6"/><path d="M696.3,1286.6H708.3M696.3,1293.8H708.3M714.5,1268.4H726.5M714.5,1277.4H726.5M741.7,1254.4H753.7M741.7,1262.4H753.7M783.7,1239.3H795.7M783.7,1247.3H795.7M853.4,1228.6H865.4M853.4,1236.6H865.4M990.6,1213.3H1002.6M990.6,1219.3H1002.6" stroke-width="5.8"/></g>
<g stroke="#EDB120" fill="none"><path d="M703.9,1366.2 L723.8,1358.3 L755.4,1338 L803.8,1328.4 L881.8,1305.6 L1029,1292.5" stroke-width="6" stroke-linejoin="round"/><path d="M703.9,1361.3V1371.1M723.8,1352.2V1364.4M755.4,1332.3V1343.7M803.8,1323.1V1333.7M881.8,1299.9V1311.3M1029,1287.7V1297.3" stroke-width="5.6"/><path d="M697.9,1361.3H709.9M697.9,1371.1H709.9M717.8,1352.2H729.8M717.8,1364.4H729.8M749.4,1332.3H761.4M749.4,1343.7H761.4M797.8,1323.1H809.8M797.8,1333.7H809.8M875.8,1299.9H887.8M875.8,1311.3H887.8M1023,1287.7H1035M1023,1297.3H1035" stroke-width="5.8"/></g>
<g stroke="#7E2F8E" fill="none"><path d="M704.6,1434.4 L727.2,1421.5 L762.7,1400.6 L818.8,1403.9 L906,1366.4 L1068,1370" stroke-width="6" stroke-linejoin="round"/><path d="M704.6,1429.5V1439.3M727.2,1415.4V1427.6M762.7,1394.3V1406.9M818.8,1397.6V1410.2M906,1360.7V1372.1M1068,1364V1376" stroke-width="5.6"/><path d="M698.6,1429.5H710.6M698.6,1439.3H710.6M721.2,1415.4H733.2M721.2,1427.6H733.2M756.7,1394.3H768.7M756.7,1406.9H768.7M812.8,1397.6H824.8M812.8,1410.2H824.8M900,1360.7H912M900,1372.1H912M1062,1364H1074M1062,1376H1074" stroke-width="5.8"/></g>
<g stroke="#77AC30" fill="none"><path d="M707.2,1487.9 L733.8,1485.8 L772.3,1479.2 L832.9,1466.7 L930,1466.6 L1120.4,1456.2" stroke-width="6" stroke-linejoin="round"/><path d="M707.2,1482.6V1493.2M733.8,1479.3V1492.3M772.3,1472.7V1485.7M832.9,1460.2V1473.2M930,1460.1V1473.1M1120.4,1449.7V1462.7" stroke-width="5.6"/><path d="M701.2,1482.6H713.2M701.2,1493.2H713.2M727.8,1479.3H739.8M727.8,1492.3H739.8M766.3,1472.7H778.3M766.3,1485.7H778.3M826.9,1460.2H838.9M826.9,1473.2H838.9M924,1460.1H936M924,1473.1H936M1114.4,1449.7H1126.4M1114.4,1462.7H1126.4" stroke-width="5.8"/></g>
<g stroke="#0072BD" fill="none"><path d="M130.3,1821 L145.6,1804.3 L168.7,1780.3 L201.6,1765.4 L251.8,1753 L342.3,1754.2" stroke-width="6" stroke-linejoin="round"/><path d="M130.3,1813.6V1828.4M145.6,1797.5V1811.1M168.7,1773.8V1786.8M201.6,1759.4V1771.4M251.8,1747.4V1758.6M342.3,1748.7V1759.7" stroke-width="5.6"/><path d="M124.3,1813.6H136.3M124.3,1828.4H136.3M139.6,1797.5H151.6M139.6,1811.1H151.6M162.7,1773.8H174.7M162.7,1786.8H174.7M195.6,1759.4H207.6M195.6,1771.4H207.6M245.8,1747.4H257.8M245.8,1758.6H257.8M336.3,1748.7H348.3M336.3,1759.7H348.3" stroke-width="5.8"/></g>
<g stroke="#D95319" fill="none"><path d="M133.5,1814.7 L155.4,1787.5 L187.7,1766.8 L236.2,1761 L315.7,1739.5 L458.1,1747.8" stroke-width="6" stroke-linejoin="round"/><path d="M133.5,1807.3V1822.1M155.4,1780.7V1794.3M187.7,1760.5V1773.1M236.2,1755.3V1766.7M315.7,1734.4V1744.6M458.1,1741.9V1753.7" stroke-width="5.6"/><path d="M127.5,1807.3H139.5M127.5,1822.1H139.5M149.4,1780.7H161.4M149.4,1794.3H161.4M181.7,1760.5H193.7M181.7,1773.1H193.7M230.2,1755.3H242.2M230.2,1766.7H242.2M309.7,1734.4H321.7M309.7,1744.6H321.7M452.1,1741.9H464.1M452.1,1753.7H464.1" stroke-width="5.8"/></g>
<g stroke="#EDB120" fill="none"><path d="M134.3,1840.1 L157.8,1822.9 L193.7,1803 L249,1779.3 L333.9,1775 L488,1773.1" stroke-width="6" stroke-linejoin="round"/><path d="M134.3,1831.9V1848.3M157.8,1815.5V1830.3M193.7,1795.6V1810.4M249,1773.1V1785.5M333.9,1769V1781M488,1766.7V1779.5" stroke-width="5.6"/><path d="M128.3,1831.9H140.3M128.3,1848.3H140.3M151.8,1815.5H163.8M151.8,1830.3H163.8M187.7,1795.6H199.7M187.7,1810.4H199.7M243,1773.1H255M243,1785.5H255M327.9,1769H339.9M327.9,1781H339.9M482,1766.7H494M482,1779.5H494" stroke-width="5.8"/></g>
<g stroke="#7E2F8E" fill="none"><path d="M134.1,1936 L156.2,1905.2 L188,1883.6 L238.1,1865.7 L318.7,1871.3 L463.1,1863.2" stroke-width="6" stroke-linejoin="round"/><path d="M134.1,1926.5V1945.5M156.2,1895.8V1914.6M188,1875V1892.2M238.1,1857.3V1874.1M318.7,1862.7V1879.9M463.1,1854.6V1871.8" stroke-width="5.6"/><path d="M128.1,1926.5H140.1M128.1,1945.5H140.1M150.2,1895.8H162.2M150.2,1914.6H162.2M182,1875H194M182,1892.2H194M232.1,1857.3H244.1M232.1,1874.1H244.1M312.7,1862.7H324.7M312.7,1879.9H324.7M457.1,1854.6H469.1M457.1,1871.8H469.1" stroke-width="5.8"/></g>
<g stroke="#77AC30" fill="none"><path d="M134.6,1995.4 L157.3,1997.5 L192.2,1987.1 L250.2,1942.4 L348.5,1954.6 L520,1952.5" stroke-width="6" stroke-linejoin="round"/><path d="M134.6,1985.1V2005.7M157.3,1987.6V2007.4M192.2,1977.6V1996.6M250.2,1932.9V1951.9M348.5,1944.6V1964.6M520,1942.5V1962.5" stroke-width="5.6"/><path d="M128.6,1985.1H140.6M128.6,2005.7H140.6M151.3,1987.6H163.3M151.3,2007.4H163.3M186.2,1977.6H198.2M186.2,1996.6H198.2M244.2,1932.9H256.2M244.2,1951.9H256.2M342.5,1944.6H354.5M342.5,1964.6H354.5M514,1942.5H526M514,1962.5H526" stroke-width="5.8"/></g>
<g stroke="#0072BD" fill="none"><path d="M702.3,1705.7 L718.4,1697 L744.4,1693.2 L784.7,1689 L850.3,1688.2 L967.2,1682.9" stroke-width="6" stroke-linejoin="round"/><path d="M702.3,1703.7V1707.7M718.4,1695.5V1698.5M744.4,1692V1694.4M784.7,1687.8V1690.2M850.3,1687V1689.4M967.2,1681.9V1683.9" stroke-width="5.6"/><path d="M696.3,1703.7H708.3M696.3,1707.7H708.3M712.4,1695.5H724.4M712.4,1698.5H724.4M738.4,1692H750.4M738.4,1694.4H750.4M778.7,1687.8H790.7M778.7,1690.2H790.7M844.3,1687H856.3M844.3,1689.4H856.3M961.2,1681.9H973.2M961.2,1683.9H973.2" stroke-width="5.8"/></g>
<g stroke="#D95319" fill="none"><path d="M702.6,1716.9 L720.5,1714.7 L747.7,1707.3 L789.7,1701.9 L859.4,1698.7 L996.6,1694.2" stroke-width="6" stroke-linejoin="round"/><path d="M702.6,1715.4V1718.4M720.5,1712.7V1716.7M747.7,1705.3V1709.3M789.7,1700.3V1703.5M859.4,1697V1700.4M996.6,1692.4V1696" stroke-width="5.6"/><path d="M696.6,1715.4H708.6M696.6,1718.4H708.6M714.5,1712.7H726.5M714.5,1716.7H726.5M741.7,1705.3H753.7M741.7,1709.3H753.7M783.7,1700.3H795.7M783.7,1703.5H795.7M853.4,1697H865.4M853.4,1700.4H865.4M990.6,1692.4H1002.6M990.6,1696H1002.6" stroke-width="5.8"/></g>
<g stroke="#EDB120" fill="none"><path d="M703.9,1764.8 L724.5,1748.8 L755.4,1753.4 L803.8,1735.9 L881.8,1731.8 L1029,1723.7" stroke-width="6" stroke-linejoin="round"/><path d="M703.9,1762.2V1767.4M724.5,1746V1751.6M755.4,1750.2V1756.6M803.8,1732.7V1739.1M881.8,1728.6V1735M1029,1721.1V1726.3" stroke-width="5.6"/><path d="M697.9,1762.2H709.9M697.9,1767.4H709.9M718.5,1746H730.5M718.5,1751.6H730.5M749.4,1750.2H761.4M749.4,1756.6H761.4M797.8,1732.7H809.8M797.8,1739.1H809.8M875.8,1728.6H887.8M875.8,1735H887.8M1023,1721.1H1035M1023,1726.3H1035" stroke-width="5.8"/></g>
<g stroke="#7E2F8E" fill="none"><path d="M704.6,1868.7 L727.2,1856.7 L762.7,1835.9 L818.8,1821.8 L906,1815.3 L1068,1804.2" stroke-width="6" stroke-linejoin="round"/><path d="M704.6,1864.7V1872.7M727.2,1852.2V1861.2M762.7,1831.4V1840.4M818.8,1817.3V1826.3M906,1810.8V1819.8M1068,1799.8V1808.6" stroke-width="5.6"/><path d="M698.6,1864.7H710.6M698.6,1872.7H710.6M721.2,1852.2H733.2M721.2,1861.2H733.2M756.7,1831.4H768.7M756.7,1840.4H768.7M812.8,1817.3H824.8M812.8,1826.3H824.8M900,1810.8H912M900,1819.8H912M1062,1799.8H1074M1062,1808.6H1074" stroke-width="5.8"/></g>
<g stroke="#77AC30" fill="none"><path d="M707.3,2038 L733.5,2018.3 L772.2,1994 L832.6,1988.8 L930.1,1979.4 L1120,1961" stroke-width="6" stroke-linejoin="round"/><path d="M707.3,2034V2042M733.5,2013.3V2023.3M772.2,1989V1999M832.6,1983.3V1994.3M930.1,1973.9V1984.9M1120,1956.3V1965.7" stroke-width="5.6"/><path d="M701.3,2034H713.3M701.3,2042H713.3M727.5,2013.3H739.5M727.5,2023.3H739.5M766.2,1989H778.2M766.2,1999H778.2M826.6,1983.3H838.6M826.6,1994.3H838.6M924.1,1973.9H936.1M924.1,1984.9H936.1M1114,1956.3H1126M1114,1965.7H1126" stroke-width="5.8"/></g>
<text x="1274.3" y="28.1" text-anchor="middle" class="lgt">motion strength</text>
<text x="1274.3" y="67.3" text-anchor="middle" class="lgt">(%coh)</text>
<g stroke="#0072BD" fill="none"><path d="M1211,101.1H1270.5" stroke-width="4.2"/><path d="M1241,86.9V115.3" stroke-width="4.2"/><path d="M1235.2,86.9H1246.8M1235.2,115.3H1246.8" stroke-width="3.6"/></g>
<text x="1276" y="113.1" class="lg">0</text>
<g stroke="#D95319" fill="none"><path d="M1211,140.7H1270.5" stroke-width="4.2"/><path d="M1241,126.5V154.9" stroke-width="4.2"/><path d="M1235.2,126.5H1246.8M1235.2,154.9H1246.8" stroke-width="3.6"/></g>
<text x="1276" y="152.7" class="lg">3.2</text>
<g stroke="#EDB120" fill="none"><path d="M1211,180.3H1270.5" stroke-width="4.2"/><path d="M1241,166.1V194.5" stroke-width="4.2"/><path d="M1235.2,166.1H1246.8M1235.2,194.5H1246.8" stroke-width="3.6"/></g>
<text x="1276" y="192.3" class="lg">6.4</text>
<g stroke="#7E2F8E" fill="none"><path d="M1211,219.9H1270.5" stroke-width="4.2"/><path d="M1241,205.7V234.1" stroke-width="4.2"/><path d="M1235.2,205.7H1246.8M1235.2,234.1H1246.8" stroke-width="3.6"/></g>
<text x="1276" y="231.9" class="lg">12.8</text>
<g fill="#fff"><rect x="1277.04" y="228.41" width="6.77" height="5.19"/><rect x="1287.12" y="228.41" width="6.52" height="5.19"/></g>
<g stroke="#77AC30" fill="none"><path d="M1211,259.5H1270.5" stroke-width="4.2"/><path d="M1241,245.3V273.7" stroke-width="4.2"/><path d="M1235.2,245.3H1246.8M1235.2,273.7H1246.8" stroke-width="3.6"/></g>
<text x="1276" y="271.5" class="lg">25.6</text>
<g stroke="#4DBEEE" fill="none"><path d="M1211,299.1H1270.5" stroke-width="4.2"/><path d="M1241,284.9V313.3" stroke-width="4.2"/><path d="M1235.2,284.9H1246.8M1235.2,313.3H1246.8" stroke-width="3.6"/></g>
<text x="1276" y="311.1" class="lg">51.2</text>
<g fill="#fff"><rect x="1294.83" y="307.61" width="6.77" height="5.19"/><rect x="1304.91" y="307.61" width="6.52" height="5.19"/></g>
<text x="1274.5" y="1180" text-anchor="middle" class="lgq">Quantile</text>
<g stroke="#0072BD" fill="none"><path d="M1172.2,1214.2H1231.7" stroke-width="4.2"/><path d="M1202,1200V1228.4" stroke-width="4.2"/><path d="M1196.2,1200H1207.8M1196.2,1228.4H1207.8" stroke-width="3.6"/></g>
<text x="1237" y="1225.6" class="lg2">1-fastest</text>
<g fill="#fff"><rect x="1238.11" y="1222.03" width="6.94" height="5.27"/><rect x="1248.45" y="1222.03" width="6.69" height="5.27"/></g>
<g stroke="#D95319" fill="none"><path d="M1172.2,1253.1H1231.7" stroke-width="4.2"/><path d="M1202,1238.9V1267.3" stroke-width="4.2"/><path d="M1196.2,1238.9H1207.8M1196.2,1267.3H1207.8" stroke-width="3.6"/></g>
<text x="1237" y="1264.5" class="lg2">2</text>
<g stroke="#EDB120" fill="none"><path d="M1172.2,1292H1231.7" stroke-width="4.2"/><path d="M1202,1277.8V1306.2" stroke-width="4.2"/><path d="M1196.2,1277.8H1207.8M1196.2,1306.2H1207.8" stroke-width="3.6"/></g>
<text x="1237" y="1303.4" class="lg2">3</text>
<g stroke="#7E2F8E" fill="none"><path d="M1172.2,1330.9H1231.7" stroke-width="4.2"/><path d="M1202,1316.7V1345.1" stroke-width="4.2"/><path d="M1196.2,1316.7H1207.8M1196.2,1345.1H1207.8" stroke-width="3.6"/></g>
<text x="1237" y="1342.3" class="lg2">4</text>
<g stroke="#77AC30" fill="none"><path d="M1172.2,1369.8H1231.7" stroke-width="4.2"/><path d="M1202,1355.6V1384" stroke-width="4.2"/><path d="M1196.2,1355.6H1207.8M1196.2,1384H1207.8" stroke-width="3.6"/></g>
<text x="1237" y="1381.2" class="lg2">5-slowest</text>
</svg></body></html>
